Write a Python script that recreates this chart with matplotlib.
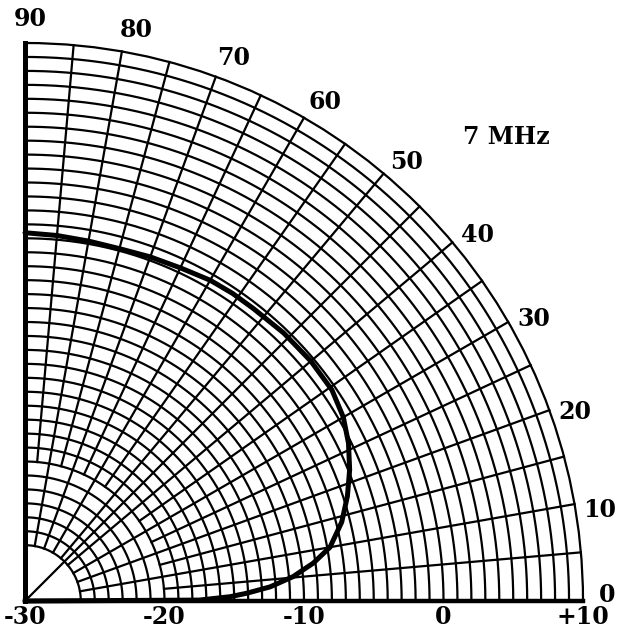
import numpy as np
import matplotlib
matplotlib.use('Agg')
import matplotlib.pyplot as plt
from matplotlib import transforms

# elevation pattern at 7 MHz (elevation angle in degrees, relative gain in dB)
elev = [0, 0.3, 1.2, 2, 3.3, 5.2, 7.5, 10, 14, 18, 22, 26, 30, 34.5, 40, 46,
        52, 56, 60, 65, 70, 75, 80, 85, 90]
gain = [-30, -17.5, -15.3, -14.1, -12.4, -10.7, -9.15, -7.8, -6.6, -5.7, -4.9, -4.2,
        -3.65, -3.3, -3.25, -3.3, -3.4, -3.4, -3.45, -3.65, -3.75, -3.85, -3.8, -3.7, -3.6]

angle_labels = [0, 10, 20, 30, 40, 50, 60, 70, 80, 90]
db_labels = [-30, -20, -10, 0, 10]
db_texts = ['-30', '-20', '-10', '0', '+10']
title = '7 MHz'

rmin, rmax = -30, 10

fig = plt.figure(figsize=(6.17, 6.30), dpi=100)
ax = fig.add_axes([25/617, 29/630, 558/617, 558/630], projection='polar')
ax.set_thetamin(0)
ax.set_thetamax(90)
ax.set_rlim(rmin, rmax)
ax.grid(False)
ax.set_xticks([])
ax.set_yticks([])

# 1 dB rings
th = np.linspace(0, np.pi/2, 300)
for r in range(-26, rmax):
    ax.plot(th, np.full_like(th, r), color='black', lw=1.6, clip_on=False, zorder=2)

# spokes every 5 deg, the in-between ones start further out
for a in range(5, 90, 5):
    if a == 45:
        r0 = rmin
    elif a % 10 == 0:
        r0 = -26
    else:
        r0 = -20
    ax.plot([np.radians(a)] * 2, [r0, rmax], color='black', lw=1.6, clip_on=False, zorder=2)

ax.spines['polar'].set_linewidth(1.6)
ax.spines['start'].set_linewidth(3.2)
ax.spines['end'].set_linewidth(3.6)
for s in ax.spines.values():
    s.set_color('black')

# pattern
ax.plot(np.radians(elev), gain, color='black', lw=3.6, clip_on=False, zorder=4,
        solid_capstyle='round', solid_joinstyle='round')

font = dict(family='DejaVu Serif', fontweight='bold', fontsize=17, color='black')

for a in angle_labels:
    if a == 0:
        t = 0.6
    elif a == 90:
        t = 89.5
    else:
        t = a - 1.0
    ax.text(np.radians(t), 11.7, str(a), ha='center', va='center', **font)

below = transforms.offset_copy(ax.transData, fig=fig, y=-3, units='points')
for v, s in zip(db_labels, db_texts):
    ax.text(0, v, s, ha='center', va='top', transform=below, **font)

fig.text(506/617, 1 - 137/630, title, ha='center', va='center', **font)

fig.savefig('out.png', dpi=100)
